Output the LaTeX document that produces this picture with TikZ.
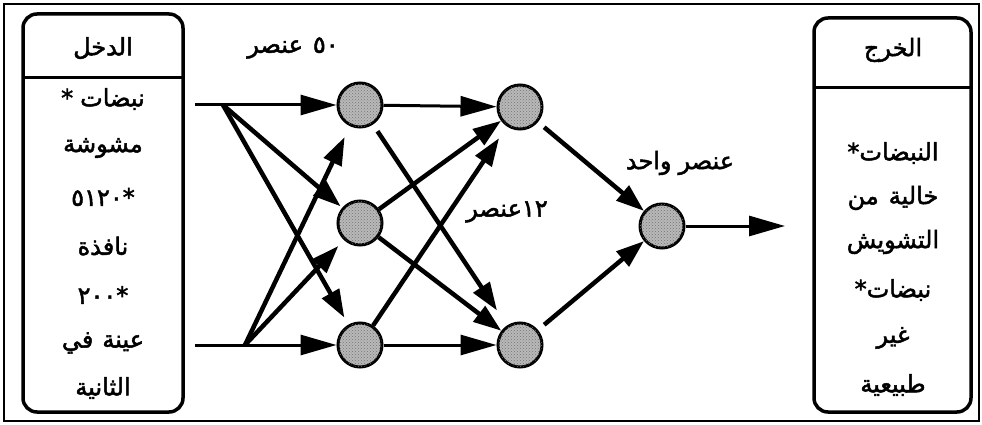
\documentclass[tikz,border=0pt]{standalone}
\usepackage{fontspec}
\usepackage{tikz}
\usetikzlibrary{arrows.meta, patterns}
\TeXXeTstate=1
\newfontfamily\arabicfont[Script=Arabic, FakeBold=2]{DejaVu Sans}
\newcommand{\arw}[1]{\hbox{\beginR #1\endR}}
\newcommand{\tok}[1]{\hbox{#1}}
\definecolor{cellgray}{RGB}{185,185,185}

\tikzset{
  cell/.style={circle, draw, line width=3pt, fill=cellgray, minimum size=44pt, inner sep=0pt,
    postaction={pattern=crosshatch dots, pattern color=black!55}},
  lbl/.style={font=\arabicfont\fontsize{24}{27}\selectfont, inner sep=0pt},
  link/.style={line width=4.5pt, -{Triangle[length=28pt,width=19pt]}},
  feed/.style={line width=3pt, -{Triangle[length=36pt,width=20pt]}},
  panel/.style={line width=3.5pt, rounded corners=14pt},
}

\begin{document}
\begin{tikzpicture}[x=1pt, y=-1pt]
\useasboundingbox (0,0) rectangle (982,425);
\draw[line width=2pt] (4,4) rectangle (979,421);

% input panel
\draw[panel] (23,14) rectangle (183,412);
\draw[line width=3pt] (23,78) -- (183,78);
\node[lbl] (inHead) at (103,48) {\arw{الدخل}};
\node[lbl] (in1) at (103,99) {\tok{*}\hspace{7pt}\arw{نبضات}};
\node[lbl] (in2) at (103,148) {\arw{مشوشة}};
\node[lbl] (in3) at (103,197) {\tok{٥١٢٠}\tok{*}};
\node[lbl] (in4) at (103,246) {\arw{نافذة}};
\node[lbl] (in5) at (103,295) {\tok{٢٠٠}\tok{*}};
\node[lbl] (in6) at (103,343) {\arw{في}\hspace{9pt}\arw{عينة}};
\node[lbl] (in7) at (103,388) {\arw{الثانية}};

% output panel
\draw[panel] (814,18) rectangle (971,412);
\draw[line width=3pt] (814,88) -- (971,88);
\node[lbl] (outHead) at (893,50) {\arw{الخرج}};
\node[lbl] (out1) at (893,153) {\tok{*}\arw{النبضات}};
\node[lbl] (out2) at (893,198) {\arw{من}\hspace{10pt}\arw{خالية}};
\node[lbl] (out3) at (893,242) {\arw{التشويش}};
\node[lbl] (out4) at (893,290) {\tok{*}\arw{نبضات}};
\node[lbl] (out5) at (893,338) {\arw{غير}};
\node[lbl] (out6) at (893,385) {\arw{طبيعية}};

% cells
\node[cell] (h1) at (360,105) {};
\node[cell] (h2) at (360,223) {};
\node[cell] (h3) at (360,345) {};
\node[cell] (m1) at (520,107) {};
\node[cell] (m2) at (520,345) {};
\node[cell] (res) at (662,226) {};

\coordinate (inA) at (195,105);
\coordinate (inB) at (195,345);
\coordinate (brA) at (223,105);
\coordinate (brB) at (245,345);
\coordinate (resEnd) at (785,226);

% inputs to first layer
\draw[feed] (inA) -- (h1);
\draw[feed] (inB) -- (h3);
\draw[link, shorten >=2pt] (brA) -- (h2);
\draw[link, shorten >=8pt] (brA) -- (h3);
\draw[link, shorten >=12pt] (brB) -- (h1);
\draw[link, shorten >=8pt] (brB) -- (h2);

% first layer to second layer
\draw[feed] (h1) -- (m1);
\draw[feed] (h3) -- (m2);
\draw[link, shorten <=8pt, shorten >=18pt] (h1) -- (m2);
\draw[link] (h2) -- (m1);
\draw[link] (h2) -- (m2);
\draw[link, shorten >=14pt] (h3) -- (m1);

% second layer to output
\draw[link, shorten <=8pt] (m1) -- (res);
\draw[link, shorten <=8pt] (m2) -- (res);
\draw[feed] (res) -- (resEnd);

\node[lbl] (lab50) at (293,48) {\arw{عنصر}\hspace{10pt}\tok{٥٠}};
\node[lbl] (lab12) at (507,212) {\arw{عنصر}\tok{١٢}};
\node[lbl] (labOne) at (680,163) {\arw{واحد}\hspace{7pt}\arw{عنصر}};
\end{tikzpicture}
\end{document}
